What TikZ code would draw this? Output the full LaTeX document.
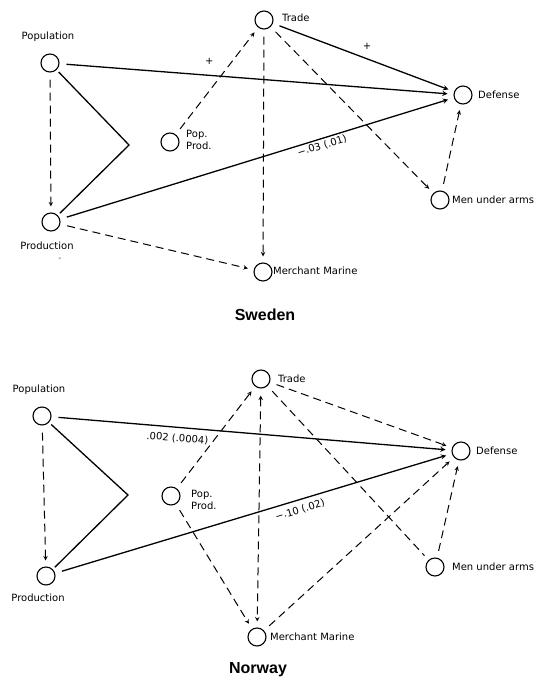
\documentclass[tikz,border=0pt]{standalone}
\usepackage{fontspec}
\setmainfont{DejaVu Sans}
\newfontfamily\titlefont{Liberation Sans}
\begin{document}
\begin{tikzpicture}[x=1pt,y=-1pt,
        var/.style={circle, draw, line width=1.1pt, minimum size=18pt, inner sep=0pt},
        txt/.style={font=\fontsize{10}{12}\selectfont, inner sep=0pt},
        coef/.style={txt, sloped},
        ttl/.style={font=\titlefont\bfseries\fontsize{16}{18}\selectfont, inner sep=0pt},
        sol/.style={line width=1.3pt, -stealth, shorten >=6pt, shorten <=7pt},
        dsh/.style={line width=1pt, dash pattern=on 8pt off 5pt, -stealth, shorten >=6pt, shorten <=7pt},
        brk/.style={line width=1.3pt, shorten >=3pt, shorten <=3pt}]
        \useasboundingbox (0,0) rectangle (540,687);

        \node[var] (popS) at (50,63) {};
        \node[var] (prodS) at (51,222) {};
        \node[var] (ppS) at (170,142) {};
        \node[var] (tradeS) at (264,20) {};
        \node[var] (defS) at (463,95) {};
        \node[var] (menS) at (440,200) {};
        \node[var] (marS) at (263,272) {};
        \coordinate (apexS) at (129,145);
        \node[txt] (popSl) at (48,37) {Population};
        \node[txt] (prodSl) at (47,246) {Production};
        \node[txt, font=\fontsize{7}{8}\selectfont] (signS) at (60,259) {-};
        \node[txt, anchor=west, align=left] (ppSl) at (186,140) {Pop.\\Prod.};
        \node[txt, anchor=west] (tradeSl) at (282,18) {Trade};
        \node[txt, anchor=west] (defSl) at (478,95) {Defense};
        \node[txt, anchor=west] (menSl) at (452,200) {Men under arms};
        \node[txt, anchor=west] (marSl) at (273,271) {Merchant Marine};
        \node[ttl] (sweden) at (265,315) {Sweden};

        \draw[sol] (popS) -- node[txt, pos=.38, above=10pt] (plusA) {+} (defS);
        \draw[sol] (tradeS) -- node[txt, pos=.52, above=9pt] (plusB) {+} (defS);
        \draw[sol] (prodS) -- node[coef, pos=.66, below=2pt] (coefS) {−.03 (.01)} (defS);
        \draw[dsh] (popS) -- (prodS);
        \draw[dsh] (prodS) -- (marS);
        \draw[dsh] (ppS) -- (tradeS);
        \draw[dsh] (tradeS) -- (marS);
        \draw[dsh] (tradeS) -- (menS);
        \draw[dsh] (menS) -- (defS);
        \draw[brk] (popS) -- (apexS) -- (prodS);

        \node[var] (popN) at (42,416) {};
        \node[var] (prodN) at (46,576) {};
        \node[var] (ppN) at (171,496) {};
        \node[var] (tradeN) at (261,379) {};
        \node[var] (defN) at (461,451) {};
        \node[var] (menN) at (435,567) {};
        \node[var] (marN) at (257,637) {};
        \coordinate (apexN) at (128,495);
        \node[txt] (popNl) at (39,390) {Population};
        \node[txt] (prodNl) at (38,598) {Production};
        \node[txt, anchor=west, align=left] (ppNl) at (191,500) {Pop.\\Prod.};
        \node[txt, anchor=west] (tradeNl) at (278,379) {Trade};
        \node[txt, anchor=west] (defNl) at (476,451) {Defense};
        \node[txt, anchor=west] (menNl) at (452,567) {Men under arms};
        \node[txt, anchor=west] (marNl) at (270,637) {Merchant Marine};
        \node[ttl] (norway) at (258,670) {Norway};

        \draw[sol] (popN) -- node[coef, pos=.317, below=6pt] (coefNa) {.002 (.0004)} (defN);
        \draw[sol] (prodN) -- node[coef, pos=.61, below=5pt] (coefNb) {−.10 (.02)} (defN);
        \draw[dsh] (tradeN) -- (defN);
        \draw[dsh, -] (tradeN) -- (menN);
        \draw[dsh] (menN) -- (defN);
        \draw[dsh] (marN) -- (defN);
        \draw[dsh, stealth-stealth] (tradeN) -- (marN);
        \draw[dsh] (ppN) -- (tradeN);
        \draw[dsh] (ppN) -- (marN);
        \draw[dsh] (popN) -- (prodN);
        \draw[brk] (popN) -- (apexN) -- (prodN);
\end{tikzpicture}
\end{document}
